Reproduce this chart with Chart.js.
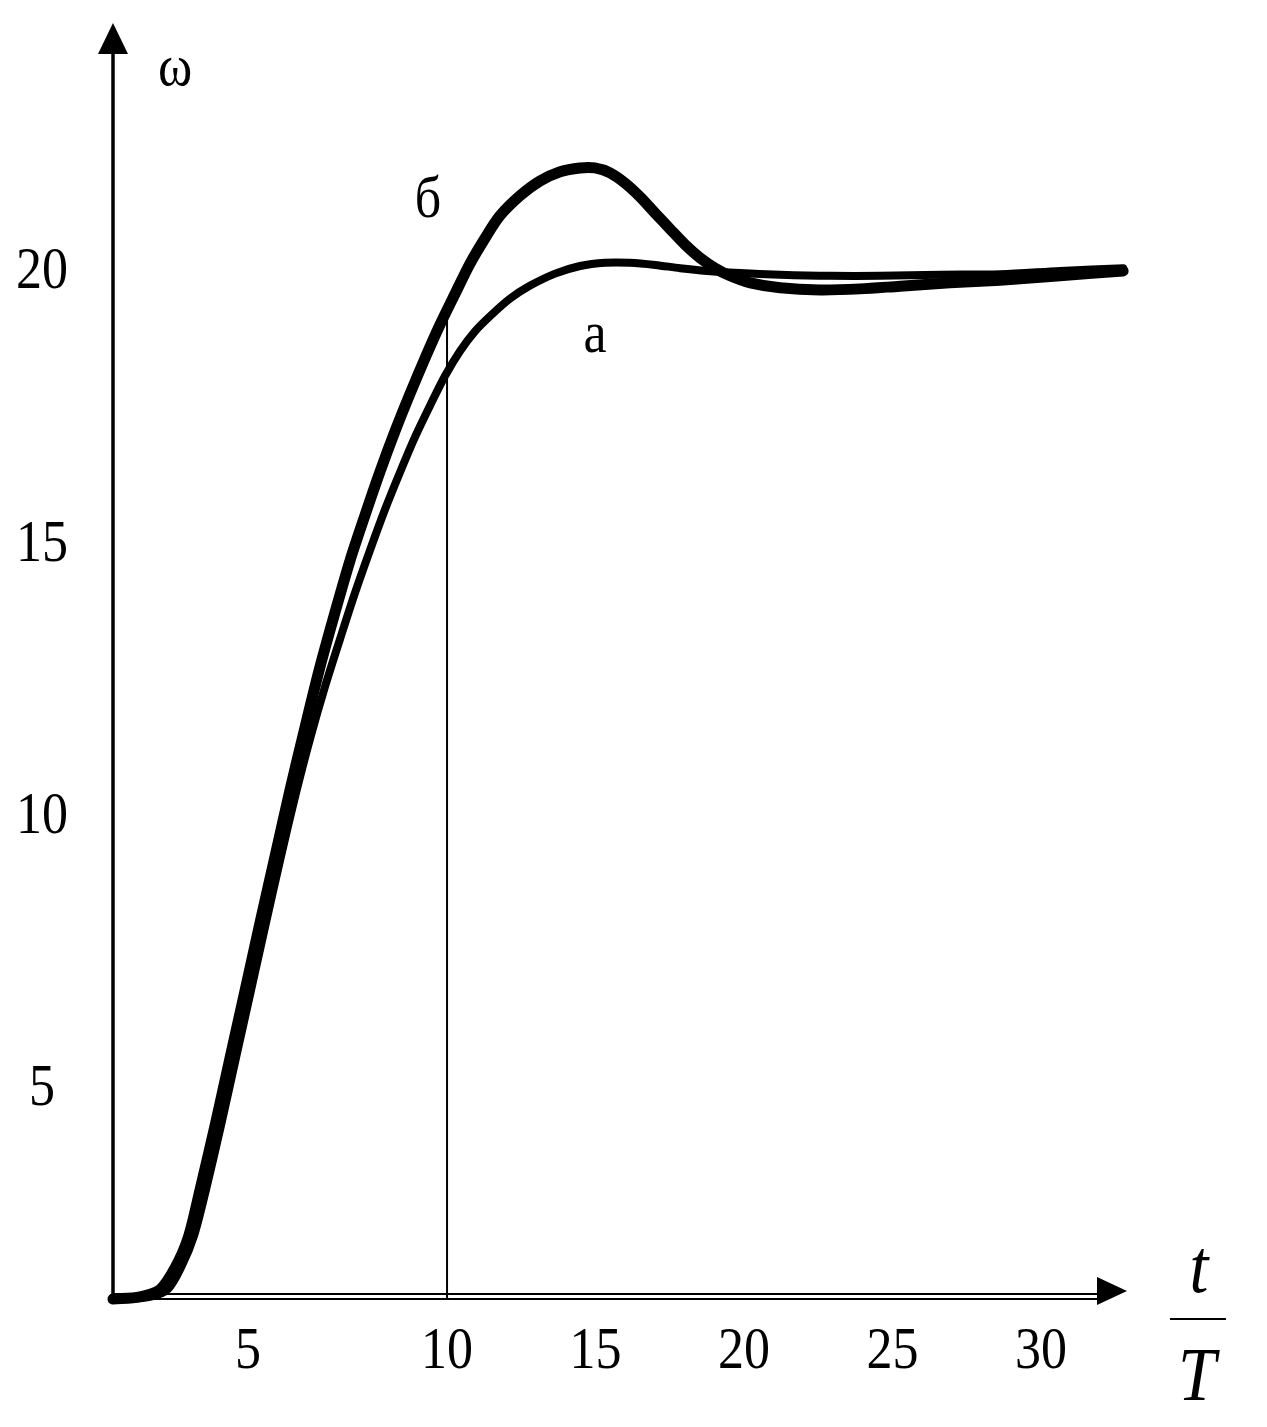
<!DOCTYPE html>
<html>
<head>
<meta charset="utf-8">
<script src="https://cdn.jsdelivr.net/npm/chart.js@4.4.1/dist/chart.umd.min.js"></script>
<style>
  html, body { margin: 0; padding: 0; background: #fff; }
  canvas { display: block; }
</style>
</head>
<body>
<canvas id="chart" width="1267" height="1427"></canvas>
<script>
// curve "б" (with overshoot): t/T against ω
const tB = [-1.25, -0.34, 0.33, 0.84, 1.28, 1.68, 2.19, 2.69, 3.20, 3.70, 4.21, 4.71, 5.22, 5.72, 6.23, 6.73, 7.24, 7.74, 8.25, 8.75, 9.26, 9.76, 10.27, 10.77, 11.28, 11.78, 12.46, 13.13, 13.81, 14.48, 14.98, 15.49, 16.00, 16.50, 17.01, 17.51, 18.02, 18.52, 19.03, 19.53, 20.21, 21.22, 22.56, 23.91, 25.26, 26.94, 28.63, 30.65, 32.77];
const wB = [1.08, 1.12, 1.25, 1.65, 2.20, 3.08, 4.27, 5.50, 6.75, 7.98, 9.21, 10.42, 11.58, 12.68, 13.69, 14.63, 15.47, 16.26, 17.01, 17.69, 18.35, 18.96, 19.53, 20.08, 20.55, 20.96, 21.33, 21.60, 21.77, 21.84, 21.84, 21.75, 21.56, 21.31, 21.01, 20.72, 20.43, 20.19, 20.00, 19.86, 19.73, 19.64, 19.60, 19.62, 19.67, 19.73, 19.78, 19.86, 19.95];

// curve "а" (no overshoot)
const tA = [-1.25, 0.00, 0.60, 1.07, 1.48, 1.88, 2.39, 2.89, 3.40, 3.90, 4.41, 4.91, 5.39, 5.89, 6.40, 6.90, 7.41, 7.91, 8.42, 8.92, 9.43, 9.93, 10.44, 10.94, 11.45, 12.12, 12.80, 13.64, 14.48, 15.32, 16.16, 17.01, 17.85, 18.76, 19.87, 21.22, 22.90, 24.58, 26.61, 28.63, 30.65, 32.77];
const wA = [1.08, 1.12, 1.26, 1.69, 2.24, 3.08, 4.27, 5.50, 6.75, 7.98, 9.21, 10.36, 11.37, 12.32, 13.20, 14.04, 14.83, 15.57, 16.26, 16.90, 17.48, 18.02, 18.48, 18.84, 19.12, 19.44, 19.68, 19.90, 20.04, 20.10, 20.10, 20.06, 20.00, 19.95, 19.91, 19.88, 19.86, 19.86, 19.88, 19.89, 19.95, 20.00];

// thin vertical line at t/T = 10, up to curve б
const guideT = [10, 10];
const guideW = [1.08, 19.42];

// tick labels; the "5" stands left of its true place in the original
const xTickLabels = ['5', '10', '15', '20', '25', '30'];
const xTickAt = [3.3, 10, 15, 20, 25, 30];
const yTickLabels = ['5', '10', '15', '20'];
const yTickAt = [5, 10, 15, 20];

const toPoints = (xs, ys) => xs.map((x, i) => ({ x: x, y: ys[i] }));

const SERIF = "'Liberation Serif', 'Times New Roman', serif";
const STRETCH = 1.12; // the scan is a bit taller than wide

function drawText(ctx, text, x, y, font) {
  ctx.save();
  ctx.translate(x, y);
  ctx.scale(1, STRETCH);
  ctx.font = font;
  ctx.textAlign = 'center';
  ctx.textBaseline = 'alphabetic';
  ctx.fillText(text, 0, 0);
  ctx.restore();
}

const axesPlugin = {
  id: 'axesPlugin',
  beforeDraw(chart) {
    const ctx = chart.ctx;
    ctx.save();
    ctx.fillStyle = '#fff';
    ctx.fillRect(0, 0, chart.width, chart.height);
    ctx.restore();
  },
  afterDraw(chart) {
    const { ctx, chartArea: a, scales: { x, y } } = chart;
    ctx.save();
    ctx.strokeStyle = '#000';
    ctx.fillStyle = '#000';

    // y axis with arrow
    ctx.lineWidth = 3.5;
    ctx.beginPath();
    ctx.moveTo(a.left, a.bottom + 3);
    ctx.lineTo(a.left, a.top + 28);
    ctx.stroke();
    ctx.beginPath();
    ctx.moveTo(a.left, a.top);
    ctx.lineTo(a.left - 15, a.top + 31);
    ctx.lineTo(a.left + 15, a.top + 31);
    ctx.closePath();
    ctx.fill();

    // x axis: double line with arrow
    ctx.lineWidth = 2.2;
    [a.bottom, a.bottom - 5].forEach(py => {
      ctx.beginPath();
      ctx.moveTo(a.left, py);
      ctx.lineTo(a.right - 26, py);
      ctx.stroke();
    });
    const ay = a.bottom - 8;
    ctx.beginPath();
    ctx.moveTo(a.right, ay);
    ctx.lineTo(a.right - 30, ay - 14);
    ctx.lineTo(a.right - 30, ay + 14);
    ctx.closePath();
    ctx.fill();

    // tick labels
    const tickFont = '52px ' + SERIF;
    xTickAt.forEach((v, i) => {
      drawText(ctx, xTickLabels[i], x.getPixelForValue(v), a.bottom + 69, tickFont);
    });
    yTickAt.forEach((v, i) => {
      drawText(ctx, yTickLabels[i], 42, y.getPixelForValue(v) + 20, tickFont);
    });

    // axis names
    drawText(ctx, 'ω', a.left + 62, 85, '52px ' + SERIF);
    drawText(ctx, 't', 1199, 1292, 'italic 68px ' + SERIF);
    ctx.lineWidth = 2;
    ctx.beginPath();
    ctx.moveTo(1170, 1319);
    ctx.lineTo(1226, 1319);
    ctx.stroke();
    drawText(ctx, 'T', 1197, 1400, 'italic 68px ' + SERIF);

    // curve names
    drawText(ctx, 'б', 428, 217, '52px ' + SERIF);
    drawText(ctx, 'а', 595, 352, '52px ' + SERIF);
    ctx.restore();
  }
};

new Chart(document.getElementById('chart'), {
  type: 'line',
  plugins: [axesPlugin],
  data: {
    datasets: [
      {
        label: 'б',
        data: toPoints(tB, wB),
        borderColor: '#000',
        borderWidth: 11,
        pointRadius: 0,
        tension: 0.3,
        borderCapStyle: 'round',
        borderJoinStyle: 'round',
        clip: false,
      },
      {
        label: 'а',
        data: toPoints(tA, wA),
        borderColor: '#000',
        borderWidth: 8,
        pointRadius: 0,
        tension: 0.3,
        borderCapStyle: 'round',
        borderJoinStyle: 'round',
        clip: false,
      },
      {
        label: 'guide',
        data: toPoints(guideT, guideW),
        borderColor: '#000',
        borderWidth: 2,
        pointRadius: 0,
        tension: 0,
        clip: false,
      },
    ],
  },
  options: {
    responsive: false,
    animation: false,
    devicePixelRatio: 1,
    layout: { padding: { left: 113, right: 140, top: 23, bottom: 128 } },
    plugins: {
      legend: { display: false },
      tooltip: { enabled: false },
    },
    scales: {
      x: { type: 'linear', min: -1.25, max: 32.9, display: false },
      y: { type: 'linear', min: 1.08, max: 24.5, display: false },
    },
  },
});
</script>
</body>
</html>
